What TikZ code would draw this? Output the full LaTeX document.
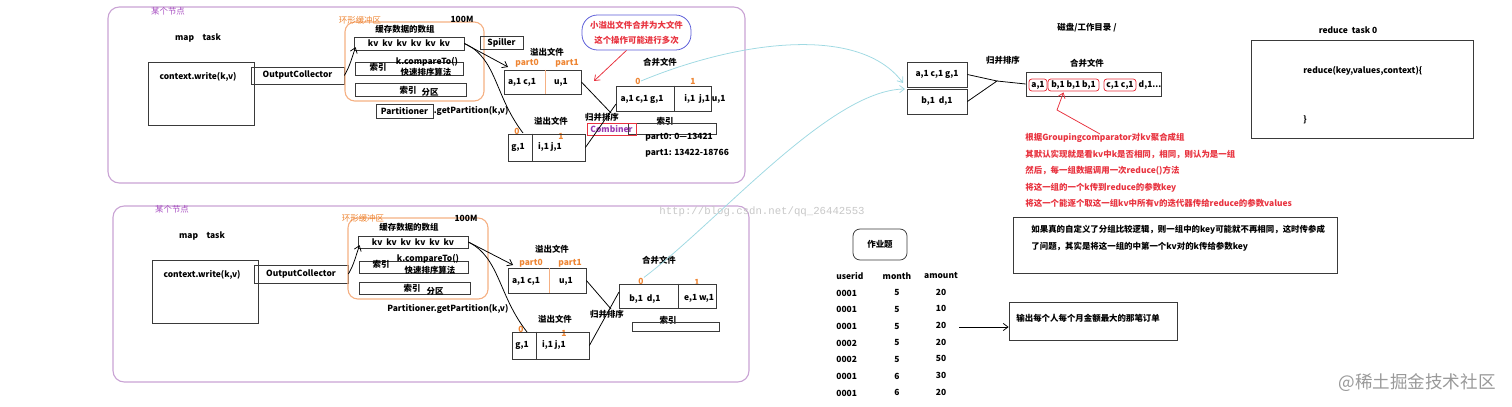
\documentclass[tikz,border=0pt]{standalone}
\usepackage{fontspec}
\setmainfont{Noto Sans CJK SC}
\newfontfamily\wmfont{Liberation Mono}
\usepackage{tikz}
\usetikzlibrary{calc,positioning,arrows.meta}
\definecolor{framecol}{HTML}{C9A3D4}
\definecolor{nodetxt}{HTML}{A64CC0}
\definecolor{bufcol}{HTML}{F5B083}
\definecolor{orangetxt}{HTML}{EE8533}
\definecolor{redtxt}{HTML}{E8333F}
\definecolor{cmbtxt}{HTML}{9B3AB0}
\definecolor{bubcol}{HTML}{5A5CD8}
\definecolor{cyancol}{HTML}{9FD9E2}
\definecolor{boxcol}{HTML}{3A3A3A}

\begin{document}
\begin{tikzpicture}[x=0.025cm,y=-0.025cm,line width=0.55pt,
        sz/.style 2 args={minimum width=#1*0.025cm,minimum height=#2*0.025cm},
        txt/.style={inner sep=0pt,font=\fontsize{6}{7}\selectfont\bfseries},
        box/.style={txt,draw=boxcol,rectangle},
        frame/.style={draw=framecol,line width=0.8pt,rounded corners=8pt,inner sep=0pt},
        nodelbl/.style={inner sep=0pt,text=nodetxt,font=\fontsize{6}{7}\selectfont},
        buf/.style={draw=bufcol,line width=0.8pt,rounded corners=7pt,inner sep=0pt},
        buflbl/.style={inner sep=0pt,text=orangetxt,font=\fontsize{6}{7}\selectfont},
        orn/.style={txt,text=orangetxt},
        cmb/.style={txt,draw=redtxt,text=cmbtxt},
        pill/.style={txt,draw=redtxt,rounded corners=2pt},
        bubble/.style={txt,draw=bubcol,rounded corners=11pt,text=redtxt,align=center,
                       font=\fontsize{6}{10.7}\selectfont\bfseries},
        redtxtblk/.style={txt,text=redtxt,align=left,font=\fontsize{6}{11.7}\selectfont\bfseries},
        tcol/.style={txt,font=\fontsize{6}{11.85}\selectfont\bfseries},
        arr/.style={->,>={Straight Barb[length=1.2mm,width=1.8mm]}},
        redarr/.style={arr,draw=redtxt},
        cyanarr/.style={arr,draw=cyancol}]
    \useasboundingbox (0,0) rectangle (1512,407);

    % upper map task node
    \node[frame,sz={637}{176}] (nodeA) at (426.5,95) {};
    \node[nodelbl] (nodeAlbl) at (168,11) {某个节点};
    \node[txt] (mapA) at (198,38) {map\quad task};
    \node[box,sz={106}{63}] (ctxA) at (201,93.5) {};
    \node[txt] (ctxAt) at (198,77) {context.write(k,v)};
    \node[box,sz={93}{17}] (ocA) at (297.5,75.5) {OutputCollector};
    \node[buf,sz={139}{79}] (bufA) at (414.5,61.5) {};
    \node[buflbl] (bufAlbl) at (360,20) {环形缓冲区};
    \node[txt] (memA) at (462,19) {100M};
    \node[txt] (arrA) at (405,29) {缓存数据的数组};
    \node[box,sz={110}{13}] (kvA) at (409,43.5) {kv~~kv~~kv~~kv~~kv~~kv};
    \node[box,sz={108}{13}] (idxA) at (409,68.5) {};
    \node[txt] (idxAt) at (378,67) {索引};
    \node[txt] (cmpA) at (427,62) {k.compareTo()};
    \node[txt] (qsA) at (426,72) {快速排序算法};
    \node[box,sz={111}{13}] (parA) at (410.5,89.5) {};
    \node[txt] (parAt1) at (408,90) {索引};
    \node[txt] (parAt2) at (430,92) {分区};
    \node[box,sz={57}{14}] (ptnA) at (404.5,111) {Partitioner};
    \node[txt,anchor=west] (gpA) at (ptnA.east) {.getPartition(k,v)};
    \node[box,sz={43}{13}] (splA) at (501.5,42.5) {Spiller};

    \node[txt] (sp1Albl) at (547,52) {溢出文件};
    \node[orn] (sp1Ap0) at (527,63) {part0};
    \node[orn] (sp1Ap1) at (567,63) {part1};
    \node[box,sz={77}{24}] (sp1A) at (542.5,82) {};
    \draw[bufcol] (545,0 |- sp1A.north) -- (545,0 |- sp1A.south);
    \node[txt] (sp1Aa) at (522,82) {a,1 c,1};
    \node[txt] (sp1Ab) at (561,82) {u,1};

    \node[txt] (sp2Albl) at (551,121) {溢出文件};
    \node[orn] (sp2Ap0) at (517,131) {0};
    \node[orn] (sp2Ap1) at (561,136) {1};
    \node[box,sz={77}{27}] (sp2A) at (546.5,147.5) {};
    \draw[boxcol] (532,0 |- sp2A.north) -- (532,0 |- sp2A.south);
    \node[txt] (sp2Aa) at (518,147) {g,1};
    \node[txt] (sp2Ab) at (550,147) {i,1 j,1};

    \node[txt] (msA) at (602,117) {归并排序};
    \node[txt] (mgAlbl) at (660,62) {合并文件};
    \node[orn] (mgA0) at (638,81) {0};
    \node[orn] (mgA1) at (693,81) {1};
    \node[box,sz={95}{25}] (mgA) at (663.5,98.5) {};
    \draw[boxcol] (674,0 |- mgA.north) -- (674,0 |- mgA.south);
    \node[txt] (mgAa) at (642,99) {a,1 c,1 g,1};
    \node[txt] (mgAb) at (705,99) {i,1~ j,1 u,1};
    \node[txt] (mgiAlbl) at (665,121) {索引};
    \node[box,sz={88}{11}] (mgiA) at (672,128.5) {};
    \node[cmb,sz={49}{12}] (cmbA) at (611.5,129) {Combiner};
    \node[txt,anchor=west] (pt0A) at (645,137) {part0: 0---13421};
    \node[txt,anchor=west] (pt1A) at (645,153) {part1: 13422-18766};
    \node[bubble,sz={109}{35}] (bubA) at (636.5,32.5)
      {小溢出文件合并为大文件\\这个操作可能进行多次};

    \coordinate (sp1Ain) at (508,67);
    \coordinate (sp2Ain) at (523,133);
    \coordinate (msA1) at (611,113);
    \coordinate (msA2) at (616,104);
    \coordinate (bubAtip) at (594,81);
    \draw[arr] (ocA.east) to[out=60,in=-110] ([xshift=0.5mm,yshift=0.8mm]kvA.south west);
    \draw[arr] (kvA.east) -- (sp1Ain);
    \draw (kvA.east) .. controls (497,58) and (494,95) .. (sp2Ain);
    \draw (sp1A.east) -- (msA1);
    \draw (sp2A.east) -- (msA2);
    \draw[redarr] ([xshift=-2.5mm]bubA.south) -- (bubAtip);

    % lower map task node
    \node[frame,sz={636}{176}] (nodeB) at (431,294) {};
    \node[nodelbl] (nodeBlbl) at (172,209) {某个节点};
    \node[txt] (mapB) at (202,236) {map\quad task};
    \node[box,sz={106}{63}] (ctxB) at (205,291.5) {};
    \node[txt] (ctxBt) at (202,275) {context.write(k,v)};
    \node[box,sz={94}{18}] (ocB) at (301,274) {OutputCollector};
    \node[buf,sz={140}{81}] (bufB) at (418,258.5) {};
    \node[buflbl] (bufBlbl) at (363,218) {环形缓冲区};
    \node[txt] (memB) at (466,218) {100M};
    \node[txt] (arrB) at (409,227) {缓存数据的数组};
    \node[box,sz={110}{12}] (kvB) at (413,242) {kv~~kv~~kv~~kv~~kv~~kv};
    \node[box,sz={109}{12}] (idxB) at (413.5,267) {};
    \node[txt] (idxBt) at (381,264) {索引};
    \node[txt] (cmpB) at (428,259) {k.compareTo()};
    \node[txt] (qsB) at (430,270) {快速排序算法};
    \node[box,sz={111}{12}] (parB) at (414.5,288) {};
    \node[txt] (parBt1) at (412,288) {索引};
    \node[txt] (parBt2) at (435,291) {分区};
    \node[txt,anchor=west] (gpB) at (387,309) {Partitioner.getPartition(k,v)};

    \node[txt] (sp1Blbl) at (552,249) {溢出文件};
    \node[orn] (sp1Bp0) at (531,263) {part0};
    \node[orn] (sp1Bp1) at (570,263) {part1};
    \node[box,sz={78}{25}] (sp1B) at (547,280.5) {};
    \draw[bufcol] (549,0 |- sp1B.north) -- (549,0 |- sp1B.south);
    \node[txt] (sp1Ba) at (526,281) {a,1 c,1};
    \node[txt] (sp1Bb) at (566,281) {u,1};

    \node[txt] (sp2Blbl) at (555,319) {溢出文件};
    \node[orn] (sp2Bp0) at (521,329) {0};
    \node[orn] (sp2Bp1) at (564,333) {1};
    \node[box,sz={77}{27}] (sp2B) at (550.5,345.5) {};
    \draw[boxcol] (536,0 |- sp2B.north) -- (536,0 |- sp2B.south);
    \node[txt] (sp2Ba) at (522,345) {g,1};
    \node[txt] (sp2Bb) at (554,345) {i,1 j,1};

    \node[txt] (msB) at (607,314) {归并排序};
    \node[txt] (mgBlbl) at (659,260) {合并文件};
    \node[orn] (mgB0) at (641,281) {0};
    \node[orn] (mgB1) at (697,282) {1};
    \node[box,sz={97}{24}] (mgB) at (667.5,296) {};
    \draw[boxcol] (678,0 |- mgB.north) -- (678,0 |- mgB.south);
    \node[txt] (mgBa) at (645,299) {b,1~ d,1};
    \node[txt] (mgBb) at (699,298) {e,1 w,1};
    \node[txt] (mgiBlbl) at (668,320) {索引};
    \node[box,sz={87}{9}] (mgiB) at (675.5,326.5) {};

    \coordinate (sp1Bin) at (513,265);
    \coordinate (sp2Bin) at (527,332);
    \coordinate (msB1) at (611,309);
    \coordinate (msB2) at (619,292);
    \draw[arr] (ocB.east) to[out=60,in=-110] ([xshift=0.5mm,yshift=0.8mm]kvB.south west);
    \draw[arr] (kvB.east) -- (sp1Bin);
    \draw (kvB.east) .. controls (500,258) and (498,295) .. (sp2Bin);
    \draw (sp1B.east) -- (msB1);
    \draw (sp2B.east) -- (msB2);

    % disk and reduce side
    \node[txt] (diskR) at (1087,28) {磁盘/工作目录 /};
    \node[box,sz={60}{25}] (rA) at (937,74.5) {a,1 c,1 g,1};
    \node[box,sz={60}{25}] (rB) at (937,101.5) {b,1~ d,1};
    \node[txt] (msR) at (1003,60) {归并排序};
    \node[txt] (mgRlbl) at (1087,63) {合并文件};
    \node[box,sz={135}{24}] (mgR) at (1093.5,84) {};
    \node[pill,sz={18}{12}] (pa) at (1038,85) {a,1};
    \node[pill,sz={51}{12}] (pb) at (1073.5,85) {b,1 b,1 b,1};
    \node[pill,sz={32}{12}] (pc) at (1120,85) {c,1 c,1};
    \node[txt] (pd) at (1150,85) {d,1...};
    \coordinate (msRj) at (997,81);
    \draw (rA.east) -- (msRj) -- (rB.east);
    \draw (msRj) -- (mgR.west);

    \node[redtxtblk,anchor=north west] (grpR) at (1025,133)
      {根据Groupingcomparator对kv聚合成组\\
       其默认实现就是看kv中k是否相同，相同，则认为是一组\\
       然后，每一组数据调用一次reduce()方法\\
       将这一组的一个k传到reduce的参数key\\
       将这一个能逐个取这一组kv中所有v的迭代器传给reduce的参数values};
    \coordinate (grpRk) at (1057,110);
    \draw[redarr] ($(grpR.north west)+(75,1)$) -- (grpRk) -- ($(pb.south)+(-10,1)$);

    \node[txt] (redlbl) at (1348,30) {reduce~ task 0};
    \node[box,sz={222}{98}] (redR) at (1362,89) {};
    \node[txt,anchor=west] (redf) at (1303,71) {reduce(key,values,context)\{};
    \node[txt,anchor=west] (redend) at (1303,120) {\}};

    \node[box,sz={324}{56}] (noteR) at (1175,245) {};
    \node[txt,anchor=north west,align=left,font=\fontsize{6}{12}\selectfont\bfseries] (noteRt) at (1031,225)
      {如果真的自定义了分组比较逻辑，则一组中的key可能就不再相同，这时传参成\\
       了问题，其实是将这一组的中第一个kv对的k传给参数key};

    % homework
    \node[box,rounded corners=5pt,sz={54}{31}] (hwR) at (880,244.5) {作业题};
    \node[tcol,anchor=north west,align=left] (tuser) at (836,272)
      {userid\\0001\\0001\\0001\\0002\\0002\\0001\\0001};
    \node[tcol,anchor=north,align=center] (tmon) at (897,272)
      {month\\5\\5\\5\\5\\5\\6\\6};
    \node[tcol,anchor=north,align=center] (tamt) at (941,272)
      {amount\\20\\10\\20\\20\\50\\30\\20};
    \node[box,sz={168}{38}] (outR) at (1093,321) {};
    \node[txt,anchor=west] (outRt) at (1016,318) {输出每个人每个月金额最大的那笔订单};
    \coordinate (hwq) at (959,327);
    \draw[arr] (hwq) -- (hwq -| outR.west);

    % spill files sent to the reducer
    \coordinate (rAin) at (903,83);
    \coordinate (rBin) at (905,89);
    \draw[cyanarr] (mgA0.east) .. controls (740,40) and (860,25) .. (rAin);
    \draw[cyanarr] (mgB0.north east) .. controls (720,220) and (830,90) .. (rBin);

    \node[inner sep=0pt,text=black!22,font=\wmfont\fontsize{7.6}{8}\selectfont] (wmA) at (762,212)
      {http://blog.csdn.net/qq\_26442553};
    \node[inner sep=0pt,text=black!40,font=\fontsize{12.5}{13}\selectfont] (wmB) at (1417,383)
      {@稀土掘金技术社区};
\end{tikzpicture}
\end{document}
